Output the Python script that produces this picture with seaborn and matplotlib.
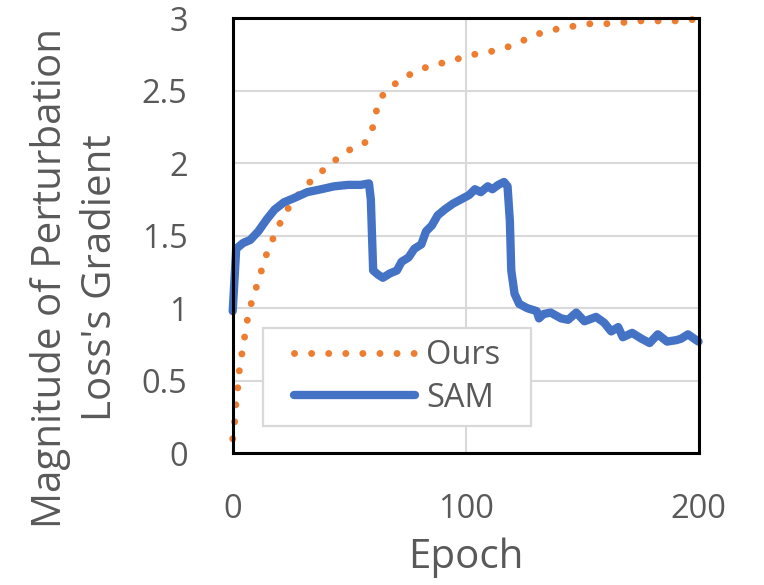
import matplotlib
matplotlib.use("Agg")
import matplotlib.pyplot as plt
from matplotlib.patches import Rectangle
from matplotlib.ticker import FuncFormatter
import seaborn as sns
import pandas as pd

# ---- data ----
ours_epoch = [0, 1, 1.5, 2.5, 3, 4.5, 5.5, 7, 9, 11.5, 13.5, 16.5, 19.5, 23, 27.5,
              32.5, 38, 44, 50, 56, 58, 60, 62, 64, 67, 70, 76, 83, 90, 97, 104,
              111, 118, 124, 131, 138, 145, 153, 160, 168, 175, 183, 190, 198, 200]
ours_value = [0.1, 0.24, 0.37, 0.49, 0.61, 0.73, 0.85, 0.98, 1.09, 1.21, 1.33, 1.45,
              1.56, 1.67, 1.77, 1.86, 1.94, 2.02, 2.09, 2.13, 2.16, 2.24, 2.38, 2.46,
              2.51, 2.55, 2.61, 2.66, 2.69, 2.72, 2.75, 2.77, 2.80, 2.84, 2.89, 2.92,
              2.94, 2.96, 2.96, 2.97, 2.98, 2.98, 2.98, 2.99, 2.99]

sam_epoch = [0, 1.5, 4.5, 7.5, 11, 14.5, 18, 22, 26.5, 32, 38, 43.5, 49.5, 55, 58.5,
             59.3, 60.3, 62.5, 64.5, 67.5, 70.5, 72.5, 75.5, 78, 81, 83, 85.5, 88, 91,
             94.5, 98, 101.5, 104, 106.5, 109.5, 111.5, 114, 116.5, 118, 119, 119.6,
             121, 123, 126.5, 130.5, 131.5, 133.5, 136.5, 141, 144, 147.5, 151, 156,
             159.5, 162.5, 165.5, 167.5, 171.5, 175.5, 179, 182.5, 186.5, 190.5,
             192.5, 195.5, 199, 200]
sam_value = [0.98, 1.41, 1.45, 1.47, 1.53, 1.61, 1.68, 1.73, 1.76, 1.80, 1.82, 1.84,
             1.85, 1.85, 1.86, 1.75, 1.26, 1.23, 1.21, 1.24, 1.26, 1.32, 1.35, 1.41,
             1.44, 1.53, 1.57, 1.64, 1.68, 1.72, 1.75, 1.78, 1.82, 1.80, 1.84, 1.82,
             1.85, 1.87, 1.84, 1.60, 1.26, 1.10, 1.03, 1.00, 0.98, 0.93, 0.96, 0.97,
             0.93, 0.92, 0.97, 0.91, 0.94, 0.90, 0.84, 0.87, 0.80, 0.83, 0.79, 0.76,
             0.82, 0.77, 0.78, 0.79, 0.82, 0.78, 0.77]

x_ticks = [0, 100, 200]
y_ticks = [0, 0.5, 1, 1.5, 2, 2.5, 3]
series_names = ["Ours", "SAM"]
x_label = "Epoch"
y_label = "Magnitude of Perturbation\nLoss's Gradient"

# ---- style ----
sns.set_theme(style="white")
plt.rcParams["font.family"] = ["Open Sans", "DejaVu Sans"]
TEXT = "#595959"
ORANGE = "#ED7D31"
BLUE = "#4472C4"
GRID = "#D9D9D9"

fig = plt.figure(figsize=(7.64, 5.85), dpi=100)
ax = fig.add_axes([0.3046, 0.2251, 0.6097, 0.7441])

df_ours = pd.DataFrame({"epoch": ours_epoch, "value": ours_value})
df_sam = pd.DataFrame({"epoch": sam_epoch, "value": sam_value})

sns.lineplot(data=df_ours, x="epoch", y="value", ax=ax, color=ORANGE,
             linewidth=5.0, linestyle=(0, (0.01, 2.45)), dash_capstyle="round",
             estimator=None, sort=False, label=series_names[0], clip_on=False, zorder=2)
sns.lineplot(data=df_sam, x="epoch", y="value", ax=ax, color=BLUE,
             linewidth=6.0, solid_capstyle="round", solid_joinstyle="round",
             estimator=None, sort=False, label=series_names[1], clip_on=False, zorder=2)

ax.set_xlim(0, 200)
ax.set_ylim(0, 3)
ax.set_xticks(x_ticks)
ax.set_yticks(y_ticks)
ax.yaxis.set_major_formatter(FuncFormatter(lambda v, p: f"{v:g}"))

ax.grid(True, color=GRID, linewidth=1.5, zorder=0)
ax.set_axisbelow(True)
for s in ax.spines.values():
    s.set_visible(True)
    s.set_color("black")
    s.set_linewidth(2.2)

ax.tick_params(axis="both", which="major", direction="out", length=9.5, width=2.2,
               color="black", labelcolor=TEXT, labelsize=23.5)
ax.tick_params(axis="y", pad=23)
ax.tick_params(axis="x", pad=19)

ax.set_xlabel(x_label, fontsize=29, color=TEXT, labelpad=8)
ax.set_ylabel(y_label, fontsize=29, color=TEXT, va="center", ha="center",
              multialignment="center", linespacing=1.3)
ax.yaxis.set_label_coords(-0.338, 0.403)

# legend with a white box behind it
if ax.get_legend():
    ax.get_legend().remove()
handles, labels = ax.get_legend_handles_labels()
box_x0, box_y0 = (263.3 - 232.7) / 466.0, (453.3 - 426.0) / 435.3
box_w, box_h = (531.0 - 263.3) / 466.0, (426.0 - 328.0) / 435.3
ax.add_patch(Rectangle((box_x0, box_y0), box_w, box_h, transform=ax.transAxes,
                       facecolor="white", edgecolor=GRID, linewidth=1.6, zorder=4))
leg = ax.legend(handles, labels, loc="center",
                bbox_to_anchor=(box_x0 + box_w / 2, box_y0 + box_h / 2),
                frameon=False, fontsize=23.5, handlelength=3.7, handletextpad=0.35,
                labelspacing=0.3, borderpad=0.0, labelcolor=TEXT)
leg.set_zorder(5)

fig.savefig("out.png", dpi=100)
